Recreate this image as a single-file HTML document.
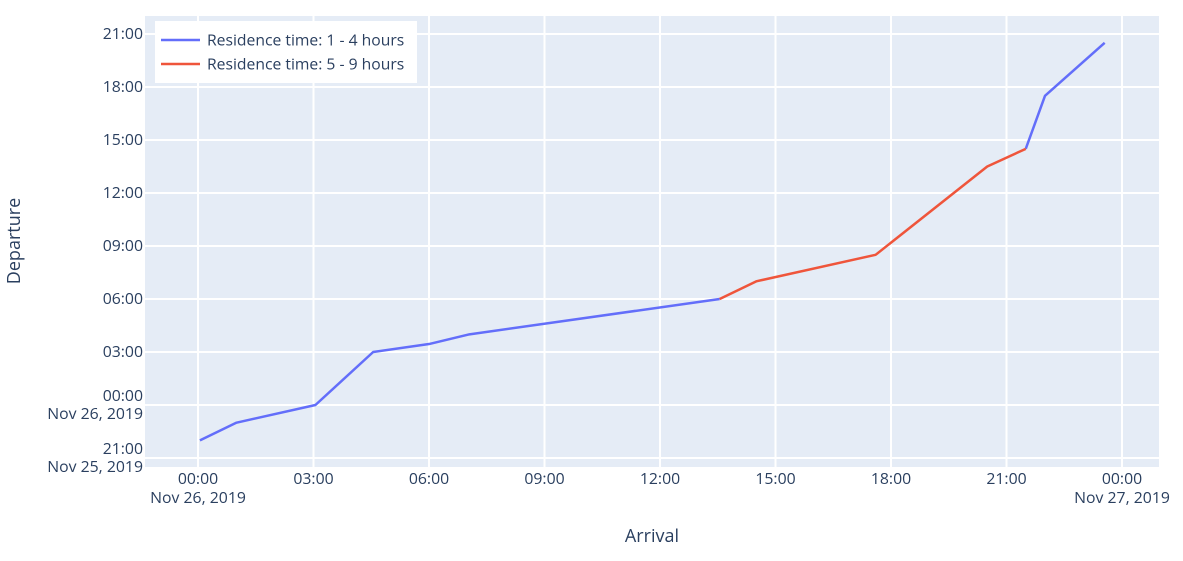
<!DOCTYPE html>
<html><head><meta charset="utf-8"><style>
body{margin:0;background:#fff;font-family:"Liberation Sans",sans-serif}
text{font-family:"Open Sans","Liberation Sans",sans-serif;fill:#2a3f5f}
</style></head><body>
<svg id="chart" width="1183" height="556" xmlns="http://www.w3.org/2000/svg">
<rect x="0" y="0" width="1183" height="556" fill="#fff"/>
<rect x="145" y="16" width="1014" height="451" fill="#e5ecf6"/>
<g id="grid"></g><g id="ticks"></g><g id="lines"></g>
<text x="652" y="542" font-size="18" text-anchor="middle">Arrival</text>
<text x="20" y="241" font-size="18" text-anchor="middle" transform="rotate(-90 20 241)">Departure</text>
<g>
<rect x="155" y="21" width="262" height="62" fill="#fff"/>
<line x1="161" y1="40" x2="200" y2="40" stroke="#636efa" stroke-width="2.5"/>
<text x="207" y="45.5" font-size="15.7">Residence time: 1 - 4 hours</text>
<line x1="161" y1="64" x2="200" y2="64" stroke="#ef553b" stroke-width="2.5"/>
<text x="207" y="69.5" font-size="15.7">Residence time: 5 - 9 hours</text>
</g>
</svg>
<script>
// hours relative to Nov 26, 2019 00:00
const blueArrival1 = [0.05, 1.0, 3.05, 4.55, 6.0, 7.05, 13.55];
const blueDeparture1 = [-2.0, -1.0, 0.0, 3.0, 3.45, 4.0, 6.0];
const redArrival = [13.55, 14.5, 17.6, 20.5, 21.5];
const redDeparture = [6.0, 7.0, 8.5, 13.5, 14.5];
const blueArrival2 = [21.5, 22.0, 23.55];
const blueDeparture2 = [14.5, 17.5, 20.5];
const xTicks = [0, 3, 6, 9, 12, 15, 18, 21, 24];
const xTickLabels = ["00:00","03:00","06:00","09:00","12:00","15:00","18:00","21:00","00:00"];
const yTicks = [-3, 0, 3, 6, 9, 12, 15, 18, 21];
const yTickLabels = ["21:00","00:00","03:00","06:00","09:00","12:00","15:00","18:00","21:00"];

const xs = h => 198 + h * 38.5;
const ys = h => 405 - h * 17.667;
const NS = "http://www.w3.org/2000/svg";
const FS = 15.8;
function mk(tag, attrs, parent){const e=document.createElementNS(NS,tag);for(const k in attrs)e.setAttribute(k,attrs[k]);parent.appendChild(e);return e;}
const grid=document.getElementById('grid'), ticks=document.getElementById('ticks'), lines=document.getElementById('lines');
xTicks.forEach((t,i)=>{
  const l=mk('line',{x1:xs(t),x2:xs(t),y1:16,y2:467,stroke:'#fff','stroke-width':2},grid);
  
  
  const tx=mk('text',{x:xs(t),y:484,'font-size':FS,'text-anchor':'middle'},ticks);
  tx.textContent=xTickLabels[i];
  
  
});
const xd1=mk('text',{x:xs(0),y:503,'font-size':FS,'text-anchor':'middle'},ticks);xd1.textContent='Nov 26, 2019';


const xd2=mk('text',{x:xs(24),y:503,'font-size':FS,'text-anchor':'middle'},ticks);xd2.textContent='Nov 27, 2019';


yTicks.forEach((t,i)=>{
  const l=mk('line',{x1:145,x2:1159,y1:ys(t),y2:ys(t),stroke:'#fff','stroke-width':2},grid);
  
  
  const tx=mk('text',{x:143,y:ys(t)+(t<=0?-4:5),'font-size':FS,'text-anchor':'end'},ticks);
  tx.textContent=yTickLabels[i];
  
  
});
const yd1=mk('text',{x:143,y:ys(0)+14,'font-size':FS,'text-anchor':'end'},ticks);yd1.textContent='Nov 26, 2019';


const yd2=mk('text',{x:143,y:ys(-3)+14,'font-size':FS,'text-anchor':'end'},ticks);yd2.textContent='Nov 25, 2019';


function series(xa,ya,color,name){
  const p=mk('polyline',{points:xa.map((x,i)=>xs(x)+','+ys(ya[i])).join(' '),fill:'none',stroke:color,'stroke-width':2.5,'stroke-linejoin':'round'},lines);
  
  
}
series(blueArrival1,blueDeparture1,'#636efa','line-1-4-hours-a');
series(blueArrival2,blueDeparture2,'#636efa','line-1-4-hours-b');
series(redArrival,redDeparture,'#ef553b','line-5-9-hours');
</script>
</body></html>
